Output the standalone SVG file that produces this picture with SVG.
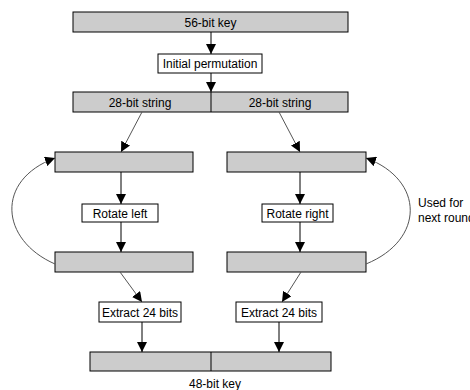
<svg xmlns="http://www.w3.org/2000/svg" width="470" height="390" viewBox="0 0 470 390">
<defs>
<style>
.bar{fill:#cccccc;stroke:#000;stroke-width:1}
.box{fill:#fff;stroke:#000;stroke-width:1}
.t{font-family:"Liberation Sans",Arial,sans-serif;font-size:12px;fill:#000}
.c{text-anchor:middle}
.v{stroke:#000;stroke-width:1;fill:none;marker-end:url(#ah)}
.g{stroke:#555;stroke-width:1;fill:none;marker-end:url(#ah)}
</style>
<marker id="ah" viewBox="0 0 10 10" refX="10" refY="5" markerWidth="10" markerHeight="10" markerUnits="userSpaceOnUse" orient="auto">
<path d="M0,0 L10,5 L0,10 Z" fill="#000"/>
</marker>
</defs>
<rect width="470" height="390" fill="#fff"/>
<g id="key56"><rect class="bar" x="73" y="12" width="275" height="20"/><text class="t c" x="210.5" y="26.5">56-bit key</text></g>
<g id="initperm"><rect class="box" x="158" y="54" width="104" height="19"/><text class="t c" x="210" y="68">Initial permutation</text></g>
<g id="strings"><rect class="bar" x="73" y="92" width="275" height="20"/><line x1="211" y1="92" x2="211" y2="112" stroke="#000"/><text class="t c" x="140" y="106.5">28-bit string</text><text class="t c" x="280" y="106.5">28-bit string</text></g>
<g id="lefttop"><rect class="bar" x="55" y="152" width="138" height="20"/></g>
<g id="righttop"><rect class="bar" x="227" y="152" width="139" height="20"/></g>
<g id="rotl"><rect class="box" x="82" y="204" width="76" height="18"/><text class="t c" x="120" y="217.5">Rotate left</text></g>
<g id="rotr"><rect class="box" x="262" y="204" width="71" height="18"/><text class="t c" x="297.5" y="217.5">Rotate right</text></g>
<g id="leftbot"><rect class="bar" x="55" y="252" width="138" height="20"/></g>
<g id="rightbot"><rect class="bar" x="227" y="252" width="139" height="20"/></g>
<g id="extl"><rect class="box" x="99" y="302" width="82" height="20"/><text class="t c" x="140" y="316.5">Extract 24 bits</text></g>
<g id="extr"><rect class="box" x="236" y="302" width="86" height="20"/><text class="t c" x="279" y="316.5">Extract 24 bits</text></g>
<g id="key48"><rect class="bar" x="90" y="352" width="241" height="19"/><line x1="211" y1="352" x2="211" y2="371" stroke="#000"/><text class="t c" x="215" y="387.5">48-bit key</text></g>
<g id="note"><text class="t" x="418" y="207">Used for</text><text class="t" x="418" y="222">next round</text></g>
<g id="connectors">
<line class="v" x1="211" y1="32" x2="211" y2="54"/>
<line class="v" x1="211" y1="73" x2="211" y2="92"/>
<line class="g" x1="142" y1="112" x2="121" y2="152"/>
<line class="g" x1="279" y1="112" x2="300" y2="152"/>
<line class="v" x1="121" y1="172" x2="121" y2="204"/>
<line class="v" x1="121" y1="222" x2="121" y2="252"/>
<line class="v" x1="300" y1="172" x2="300" y2="204"/>
<line class="v" x1="300" y1="222" x2="300" y2="252"/>
<line class="g" x1="120" y1="272" x2="142" y2="302"/>
<line class="g" x1="301" y1="272" x2="282" y2="302"/>
<line class="v" x1="142" y1="322" x2="142" y2="352"/>
<line class="v" x1="279" y1="322" x2="279" y2="352"/>
<path class="g" d="M55,264 C0,240 -5,180 55,158"/>
<path class="g" d="M366,264 C425,240 425,180 366,158"/>
</g>
</svg>
